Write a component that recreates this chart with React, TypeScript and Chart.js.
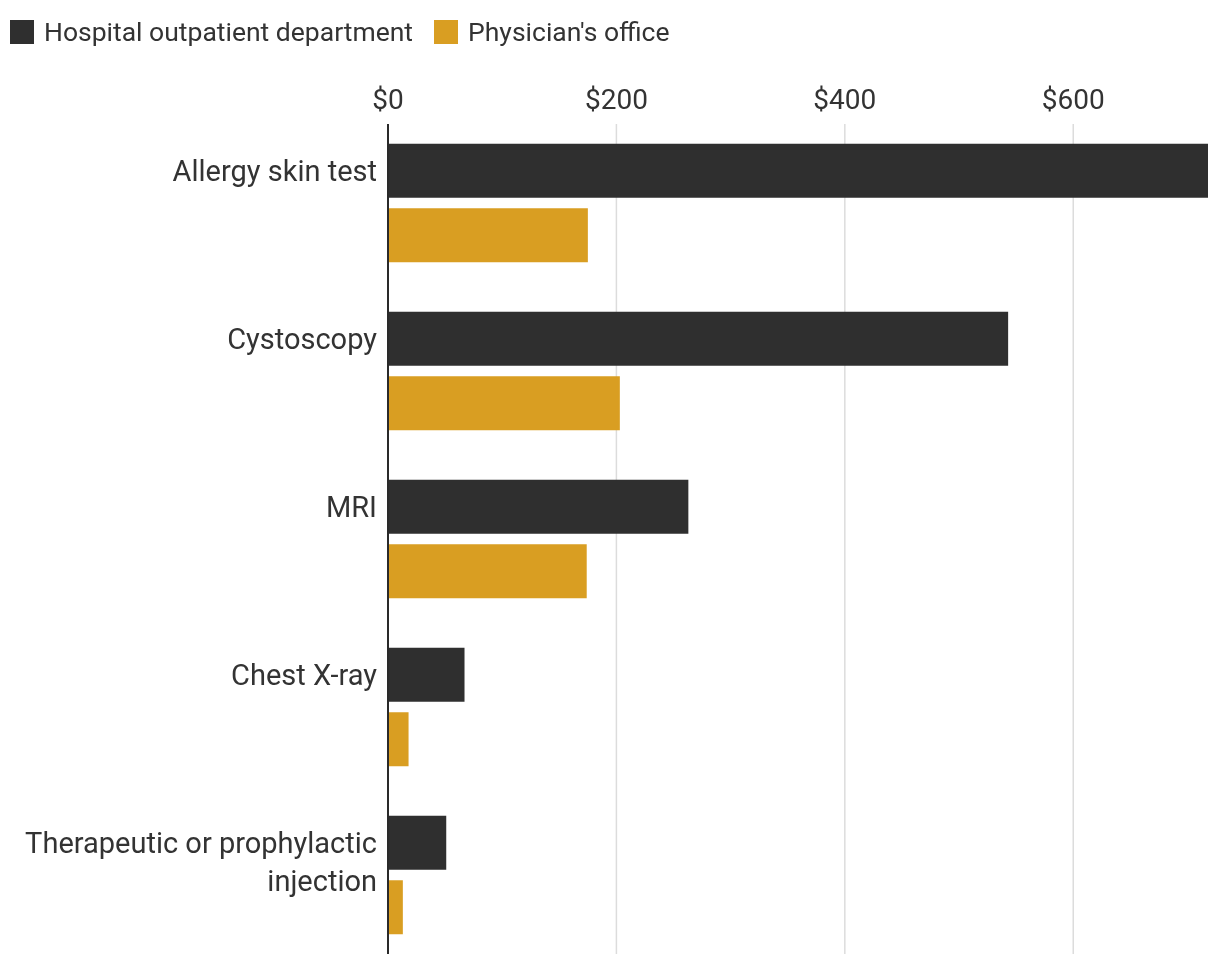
import React, { useEffect, useRef } from "react";
import { Chart, registerables } from "chart.js";

Chart.register(...registerables);

// ---- data ----
const CATEGORIES: string[][] = [
  ["Allergy skin test"],
  ["Cystoscopy"],
  ["MRI"],
  ["Chest X-ray"],
  ["Therapeutic or prophylactic", "injection"],
];
const SERIES_NAMES = ["Hospital outpatient department", "Physician's office"];
const HOSPITAL = [718, 543, 263, 67, 51];
const PHYSICIAN = [175, 203, 174, 18, 13];
const X_TICKS = [0, 200, 400, 600];
const X_MAX = 718;

const COLORS = ["#2f2f2f", "#d99e22"];
const TEXT = "#333333";
const FONT = "Roboto, 'Noto Sans', sans-serif";

const gridPlugin = {
  id: "customGrid",
  beforeDatasetsDraw(chart: any) {
    const { ctx, chartArea } = chart;
    const x = chart.scales.x;
    ctx.save();
    ctx.strokeStyle = "#dcdcdc";
    ctx.lineWidth = 1.5;
    X_TICKS.forEach((v) => {
      if (v === 0) return;
      const px = x.getPixelForValue(v);
      ctx.beginPath();
      ctx.moveTo(px, chartArea.top + 5);
      ctx.lineTo(px, chartArea.bottom - 5);
      ctx.stroke();
    });
    ctx.restore();
  },
  afterDatasetsDraw(chart: any) {
    const { ctx, chartArea } = chart;
    const px = chart.scales.x.getPixelForValue(0);
    ctx.save();
    ctx.strokeStyle = "#2a2a2a";
    ctx.lineWidth = 2;
    ctx.beginPath();
    ctx.moveTo(px, chartArea.top + 5);
    ctx.lineTo(px, chartArea.bottom - 5);
    ctx.stroke();
    ctx.restore();
  },
};

export default function App() {
  const ref = useRef<HTMLCanvasElement | null>(null);

  useEffect(() => {
    if (!ref.current) return;
    const labels = CATEGORIES.map((l) => (l.length < 2 ? [...l, ""] : l));
    const chart = new Chart(ref.current, {
      type: "bar",
      data: {
        labels,
        datasets: [
          {
            label: SERIES_NAMES[0],
            data: HOSPITAL,
            backgroundColor: COLORS[0],
            categoryPercentage: 0.768,
            barPercentage: 0.837,
          },
          {
            label: SERIES_NAMES[1],
            data: PHYSICIAN,
            backgroundColor: COLORS[1],
            categoryPercentage: 0.768,
            barPercentage: 0.837,
          },
        ],
      },
      plugins: [gridPlugin],
      options: {
        indexAxis: "y",
        responsive: false,
        animation: false,
        devicePixelRatio: 1,
        layout: { padding: { top: 0, right: 12, bottom: 7, left: 0 } },
        plugins: {
          legend: { display: false },
          tooltip: { enabled: false },
        },
        scales: {
          x: {
            type: "linear",
            position: "top",
            min: 0,
            max: X_MAX,
            afterBuildTicks: (axis: any) => {
              axis.ticks = X_TICKS.map((v) => ({ value: v }));
            },
            afterFit: (axis: any) => {
              axis.height = 119;
              axis.paddingLeft = 0;
              axis.paddingRight = 0;
            },
            grid: { display: false, drawTicks: false },
            border: { display: false },
            ticks: {
              color: TEXT,
              padding: 0,
              font: { family: FONT, size: 28, lineHeight: 1.2 },
              callback: (v: any) => "$" + v,
              maxRotation: 0,
              autoSkip: false,
            },
          },
          y: {
            type: "category",
            afterFit: (axis: any) => {
              axis.width = 388;
              axis.paddingTop = 0;
              axis.paddingBottom = 0;
            },
            grid: { display: false, drawTicks: false },
            border: { display: false },
            ticks: {
              color: TEXT,
              padding: 11,
              labelOffset: -10,
              font: { family: FONT, size: 29, lineHeight: "38px" },
              autoSkip: false,
            },
          },
        },
      },
    });
    return () => chart.destroy();
  }, []);

  return (
    <div
      style={{
        position: "fixed",
        left: 0,
        top: 0,
        width: 1220,
        height: 966,
        background: "#ffffff",
        fontFamily: FONT,
      }}
    >
      <canvas ref={ref} width={1220} height={966} style={{ position: "absolute", left: 0, top: 0 }} />
      <div
        style={{
          position: "absolute",
          left: 10,
          top: 20,
          display: "flex",
          alignItems: "center",
          fontSize: 26.5,
          color: TEXT,
          lineHeight: "24px",
        }}
      >
        {SERIES_NAMES.map((name, i) => (
          <div key={name} style={{ display: "flex", alignItems: "center", marginRight: 21 }}>
            <span
              style={{
                display: "inline-block",
                width: 24,
                height: 24,
                background: COLORS[i],
                marginRight: 10,
              }}
            />
            <span>{name}</span>
          </div>
        ))}
      </div>
    </div>
  );
}
